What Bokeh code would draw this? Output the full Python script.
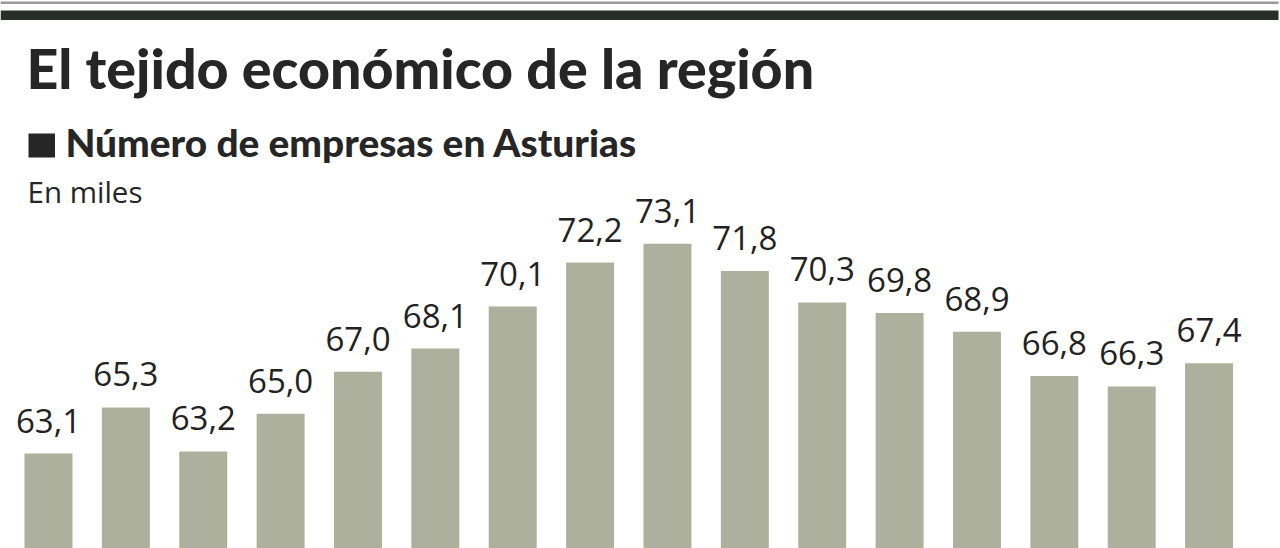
from bokeh.plotting import figure
from bokeh.models import Range1d, Label, BoxAnnotation, ColumnDataSource
from bokeh.core.properties import value
from bokeh.embed import file_html
from bokeh.resources import INLINE

# ---- data ----
bar_index = list(range(16))
empresas = [63.1, 65.3, 63.2, 65.0, 67.0, 68.1, 70.1, 72.2, 73.1, 71.8, 70.3, 69.8, 68.9, 66.8, 66.3, 67.4]
value_labels = ["63,1", "65,3", "63,2", "65,0", "67,0", "68,1", "70,1", "72,2", "73,1", "71,8",
                "70,3", "69,8", "68,9", "66,8", "66,3", "67,4"]
title_text = "El tejido económico de la región"
subtitle_text = "Número de empresas en Asturias"
unit_text = "En miles"

W, H = 1280, 548
XMIN, XMAX = -0.620, 15.923
YMIN, YMAX = 58.58, 84.68

def px_x(px):
    return XMIN + px / W * (XMAX - XMIN)

def px_y(py):
    return YMAX - py / H * (YMAX - YMIN)

p = figure(width=W, height=H, output_backend="svg", toolbar_location=None,
           x_range=Range1d(XMIN, XMAX), y_range=Range1d(YMIN, YMAX),
           x_axis_location=None, y_axis_location=None, min_border=0)
p.outline_line_color = None
p.xgrid.visible = False
p.ygrid.visible = False
p.background_fill_color = "white"
p.border_fill_color = "white"

# header rules
p.add_layout(BoxAnnotation(left=px_x(0), right=px_x(1278), top=px_y(1), bottom=px_y(3.5),
                           fill_color="#9a9a9a", fill_alpha=1, line_color=None))
p.add_layout(BoxAnnotation(left=px_x(0), right=px_x(1278), top=px_y(10), bottom=px_y(19.5),
                           fill_color="#2b2e28", fill_alpha=1, line_color=None))

src = ColumnDataSource(dict(x=bar_index, top=empresas, lab=value_labels))
p.vbar(x="x", top="top", bottom=YMIN - 5, width=0.62, source=src,
       fill_color="#adb09c", line_color=None)
p.text(x="x", y="top", text="lab", source=src, y_offset=-33,
       text_align="center", text_baseline="alphabetic",
       text_font=value("Open Sans"), text_font_size="33px", text_color="#222222")

p.add_layout(Label(x=px_x(26), y=px_y(67), text=title_text, text_baseline="alphabetic",
                   text_font="Lato Black", text_font_style="bold",
                   text_font_size="55.5px", text_color="#262626"))
p.add_layout(BoxAnnotation(left=px_x(28), right=px_x(54.5), top=px_y(133), bottom=px_y(157),
                           fill_color="#262626", fill_alpha=1, line_color=None))
p.add_layout(Label(x=px_x(65), y=px_y(141), text=subtitle_text, text_baseline="alphabetic",
                   text_font="Lato Black", text_font_style="bold",
                   text_font_size="38.8px", text_color="#262626"))
p.add_layout(Label(x=px_x(27), y=px_y(191), text=unit_text, text_baseline="alphabetic",
                   text_font="Open Sans", text_font_size="29.5px", text_color="#262626"))

open("out.html", "w").write(file_html(p, INLINE))
